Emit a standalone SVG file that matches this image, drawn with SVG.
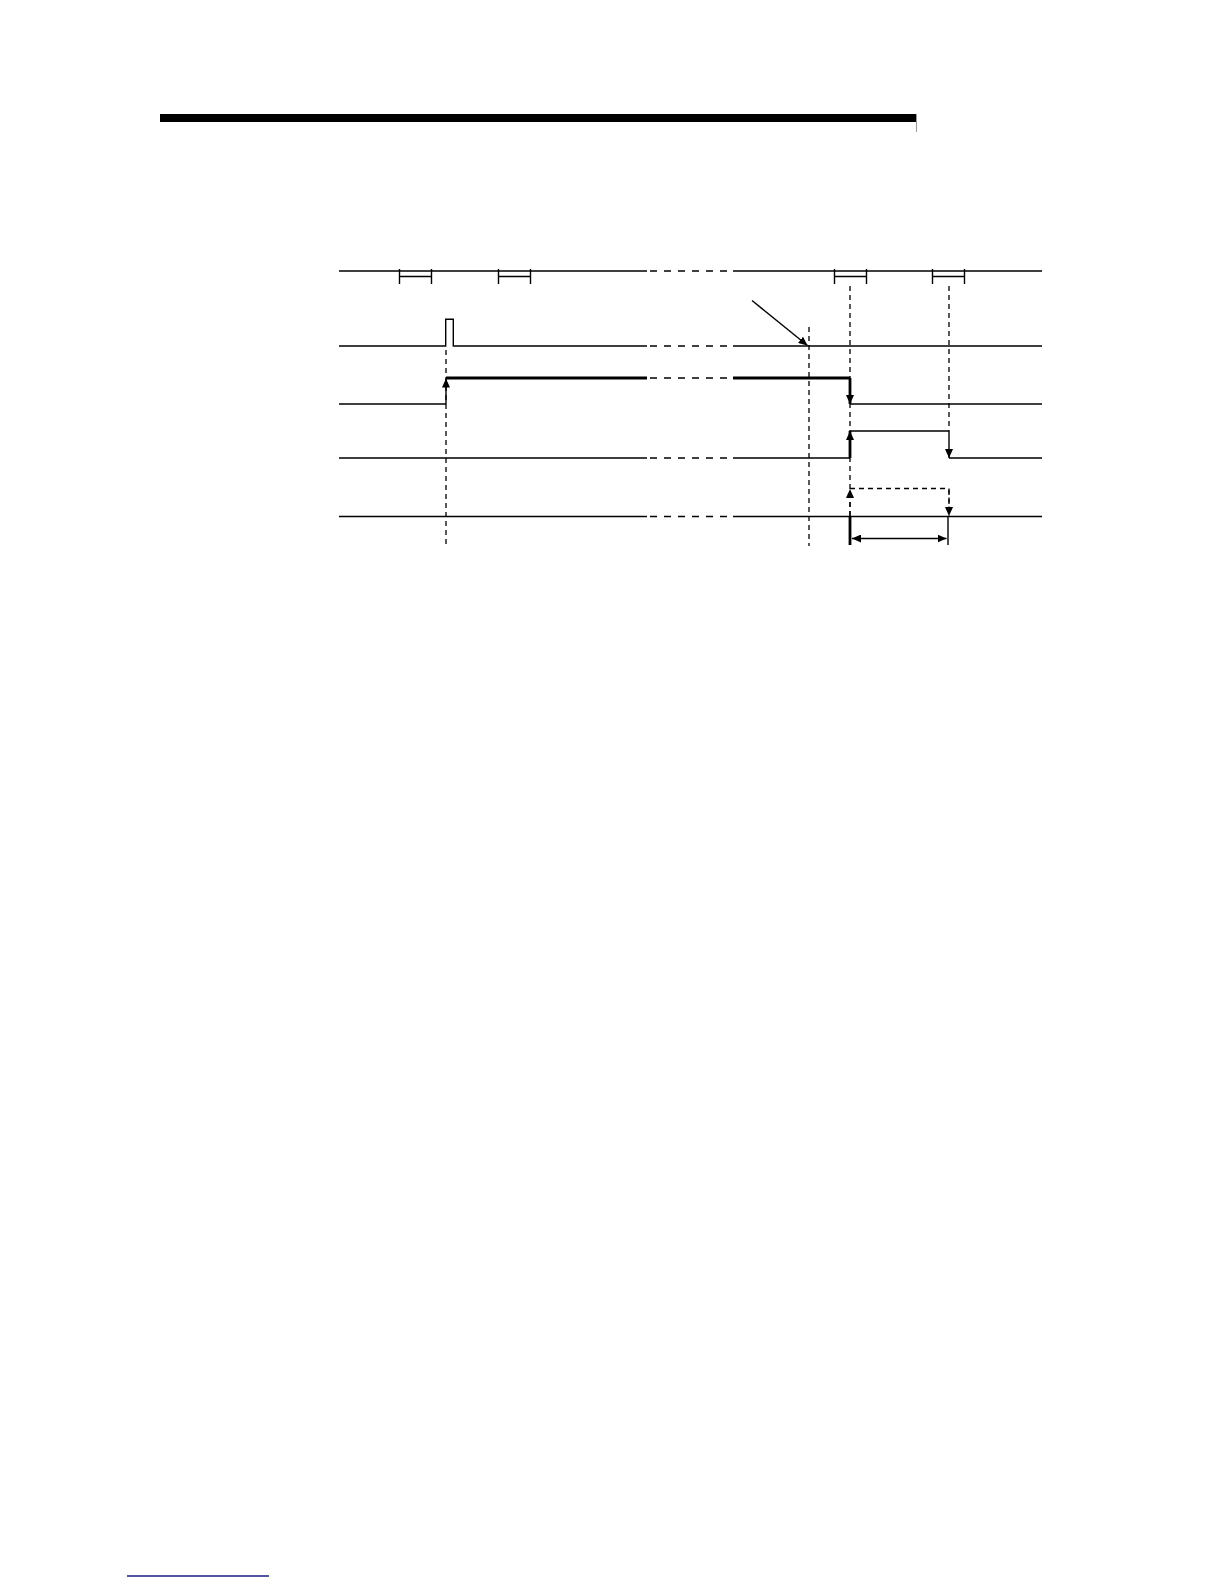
<svg xmlns="http://www.w3.org/2000/svg" width="1224" height="1584" viewBox="0 0 1224 1584">
<style>
  .s{stroke:#000;stroke-width:1.4;fill:none}
  .t{stroke:#000;stroke-width:2.8;fill:none}
  .d{stroke:#000;stroke-width:1.3;fill:none;stroke-dasharray:7,7}
  .v{stroke:#000;stroke-width:1.3;fill:none;stroke-dasharray:5,4}
</style>
<defs>
  <marker id="ah" viewBox="0 0 9 8" refX="9" refY="4" markerWidth="9" markerHeight="8" markerUnits="userSpaceOnUse" orient="auto">
    <path d="M0,0 L9,4 L0,8 Z" fill="#000" stroke="none"/>
  </marker>
  <marker id="as" viewBox="0 0 9 8" refX="0" refY="4" markerWidth="9" markerHeight="8" markerUnits="userSpaceOnUse" orient="auto">
    <path d="M9,0 L0,4 L9,8 Z" fill="#000" stroke="none"/>
  </marker>
</defs>
<rect width="1224" height="1584" fill="#fff"/>
<g id="header">
  <rect x="160" y="114" width="756" height="8" fill="#000"/>
  <line x1="916.5" y1="114" x2="916.5" y2="132" stroke="#999" stroke-width="1"/>
</g>
<g id="signal-clock">
  <path class="s" d="M339,271 H647 M733,271 H1042"/>
  <path class="d" d="M650,271 H733"/>
  <path class="s" d="M399.5,269 V284 M431.5,269 V284 M399.5,276.5 H431.5"/>
  <path class="s" d="M498.5,269 V284 M530.5,269 V284 M498.5,276.5 H530.5"/>
  <path class="s" d="M834.5,269 V284 M866.5,269 V284 M834.5,276.5 H866.5"/>
  <path class="s" d="M932.5,269 V284 M964.5,269 V284 M932.5,276.5 H964.5"/>
</g>
<g id="signal-pulse">
  <path class="s" d="M339,346 H445.7 V319.3 H453.3 V346 H647 M733,346 H1042"/>
  <path class="d" d="M650,346 H733"/>
</g>
<g id="signal-3">
  <path class="s" d="M339,404 H446"/>
  <path class="t" d="M446,378 H647 M733,378 H850"/>
  <path class="d" d="M650,378 H733"/>
  <path class="s" d="M850,404 H1042"/>
</g>
<g id="signal-4">
  <path class="s" d="M339,458 H647 M733,458 H850 M850,431 H949 M949,458 H1042"/>
  <path class="d" d="M650,458 H733"/>
</g>
<g id="signal-5">
  <path class="s" d="M339,516.5 H647 M733,516.5 H1042"/>
  <path class="d" d="M650,516.5 H733"/>
</g>
<g id="connectors">
  <line class="v" x1="446" y1="350" x2="446" y2="546"/>
  <line class="v" x1="809" y1="327" x2="809" y2="546"/>
  <line class="v" x1="850" y1="286" x2="850" y2="516"/>
  <line class="v" x1="949" y1="286" x2="949" y2="431"/>
  <line class="s" x1="446" y1="404" x2="446" y2="378.5" marker-end="url(#ah)"/>
  <line class="t" x1="850" y1="378" x2="850" y2="404" marker-end="url(#ah)"/>
  <line class="t" x1="850" y1="458" x2="850" y2="431" marker-end="url(#ah)"/>
  <line class="s" x1="949" y1="431" x2="949" y2="458" marker-end="url(#ah)"/>
  <path class="v" d="M850,488.5 H949 V516"/>
  <line class="v" x1="850" y1="516" x2="850" y2="489" marker-end="url(#ah)"/>
  <line class="v" x1="949" y1="490" x2="949" y2="516" marker-end="url(#ah)"/>
  <line class="s" x1="752" y1="300.5" x2="807.5" y2="345.5" marker-end="url(#ah)"/>
  <line class="t" x1="850" y1="516.5" x2="850" y2="545"/>
  <line class="s" x1="948" y1="516.5" x2="948" y2="545"/>
  <line class="s" x1="852" y1="538.5" x2="946.5" y2="538.5" marker-start="url(#as)" marker-end="url(#ah)"/>
</g>
<g id="footer">
  <line x1="127" y1="1576" x2="269" y2="1576" stroke="#1a1a80" stroke-width="1.5"/>
</g>
</svg>
